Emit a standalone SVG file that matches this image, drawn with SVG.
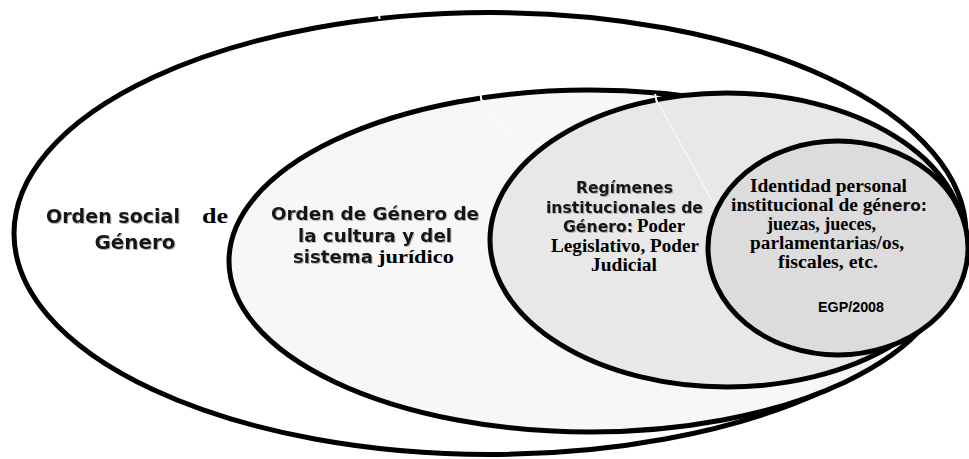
<svg xmlns="http://www.w3.org/2000/svg" width="969" height="459" viewBox="0 0 969 459">
<style>
.ell{stroke:#000;stroke-width:5}
.sans{font-family:"DejaVu Sans",Verdana,sans-serif;font-weight:bold;fill:#141414}
.serif{font-family:"Liberation Serif","Times New Roman",serif;font-weight:bold;fill:#000}
.egp{font-family:"Liberation Sans",Arial,sans-serif;font-weight:bold;font-size:14px;fill:#000}
.cut{stroke:#fff;stroke-width:2}
.hair{stroke:#fff;stroke-width:1}
</style>
<defs>
<filter id="sh" x="-5%" y="-20%" width="110%" height="140%">
<feDropShadow dx="1" dy="1" stdDeviation="0.6" flood-color="#777" flood-opacity="0.55"/>
</filter>
</defs>
<rect width="969" height="459" fill="#fff"/>
<g id="node-orden-social">
<ellipse class="ell" cx="490" cy="233.5" rx="476" ry="221" fill="#fff"/>
<text class="sans" font-size="19" x="46" y="223" textLength="134" lengthAdjust="spacingAndGlyphs" filter="url(#sh)">Orden social</text>
<text class="serif" font-size="21" x="202" y="223" textLength="26" lengthAdjust="spacingAndGlyphs">de</text>
<text class="sans" font-size="19" x="135" y="249" text-anchor="middle" textLength="81" lengthAdjust="spacingAndGlyphs" filter="url(#sh)">Género</text>
</g>
<g id="node-orden-genero">
<ellipse class="ell" cx="590" cy="261" rx="361" ry="171" fill="#f7f7f7"/>
<text class="sans" font-size="18" x="375" y="220" text-anchor="middle" textLength="208" lengthAdjust="spacingAndGlyphs" filter="url(#sh)">Orden de Género de</text>
<text class="sans" font-size="18" x="375" y="242" text-anchor="middle" textLength="154" lengthAdjust="spacingAndGlyphs" filter="url(#sh)">la cultura y del</text>
<text class="sans" font-size="18" x="293" y="263" textLength="80" lengthAdjust="spacingAndGlyphs" filter="url(#sh)">sistema</text>
<text class="serif" font-size="19.5" x="378" y="263" textLength="76" lengthAdjust="spacingAndGlyphs">jurídico</text>
</g>
<g id="node-regimenes">
<ellipse class="ell" cx="727" cy="240" rx="237" ry="147" fill="#e8e8e8"/>
<text class="sans" font-size="15.5" x="624.5" y="193" text-anchor="middle" textLength="97" lengthAdjust="spacingAndGlyphs" filter="url(#sh)">Regímenes</text>
<text class="sans" font-size="15.5" x="624.5" y="212.5" text-anchor="middle" textLength="157" lengthAdjust="spacingAndGlyphs" filter="url(#sh)">institucionales de</text>
<text class="sans" font-size="15.5" x="563" y="232" textLength="70" lengthAdjust="spacingAndGlyphs" filter="url(#sh)">Género:</text>
<text class="serif" font-size="19" x="637" y="232" textLength="48" lengthAdjust="spacingAndGlyphs">Poder</text>
<text class="serif" font-size="19" x="625" y="251.5" text-anchor="middle" textLength="148" lengthAdjust="spacingAndGlyphs">Legislativo, Poder</text>
<text class="serif" font-size="19" x="624" y="270.5" text-anchor="middle" textLength="66" lengthAdjust="spacingAndGlyphs">Judicial</text>
</g>
<g id="node-identidad">
<ellipse class="ell" cx="838" cy="248" rx="130" ry="107" fill="#dcdcdc"/>
<text class="serif" font-size="18.5" x="828.5" y="192" text-anchor="middle" textLength="157" lengthAdjust="spacingAndGlyphs">Identidad personal</text>
<text class="serif" font-size="18.5" x="731" y="211" textLength="150" lengthAdjust="spacingAndGlyphs">institucional de gé</text>
<text class="sans" font-size="15.5" x="881" y="211" textLength="46" lengthAdjust="spacingAndGlyphs">nero:</text>
<text class="serif" font-size="18.5" x="821.5" y="230" text-anchor="middle" textLength="109" lengthAdjust="spacingAndGlyphs">juezas, jueces,</text>
<text class="serif" font-size="18.5" x="827" y="249" text-anchor="middle" textLength="154" lengthAdjust="spacingAndGlyphs">parlamentarias/os,</text>
<text class="serif" font-size="18.5" x="828" y="268" text-anchor="middle" textLength="100" lengthAdjust="spacingAndGlyphs">fiscales, etc.</text>
<text class="egp" x="851" y="312" text-anchor="middle" textLength="66" lengthAdjust="spacingAndGlyphs">EGP/2008</text>
</g>
<g id="connectors">
<line class="cut" x1="378.5" y1="9" x2="379.5" y2="19"/>
<line class="cut" x1="480.5" y1="93" x2="481.5" y2="102"/>
<line class="hair" x1="481" y1="98" x2="526" y2="157"/>
<line class="cut" x1="655" y1="94" x2="657" y2="103"/>
<line class="hair" x1="656" y1="99" x2="715" y2="206"/>
</g>
</svg>
